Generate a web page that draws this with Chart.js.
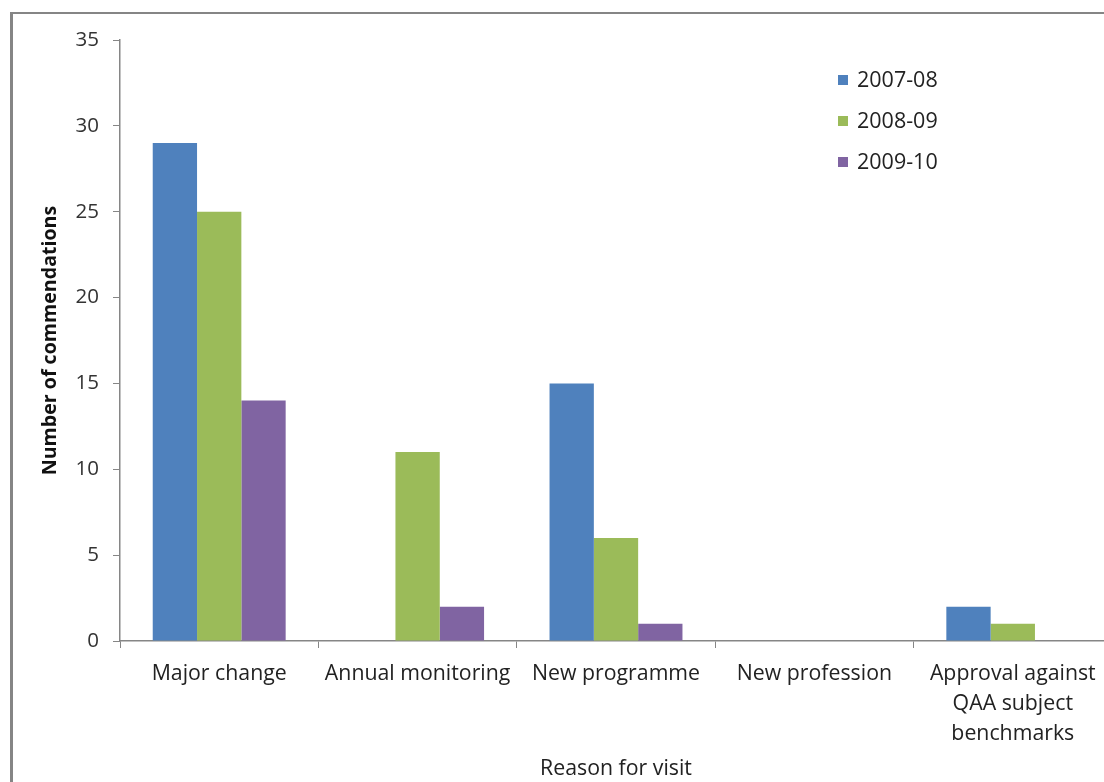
<!DOCTYPE html>
<html>
<head>
<meta charset="utf-8">
<script src="https://cdn.jsdelivr.net/npm/chart.js@4"></script>
<style>
  html, body { margin: 0; padding: 0; background: #fff; overflow: hidden; }
  #frame {
    position: absolute; left: 10px; top: 12px; width: 1200px; height: 900px;
    border-top: 2px solid #858585; border-left: 3px solid #858585;
  }
  #wrap { position: absolute; left: 0; top: 0; width: 1114px; height: 782px; }
</style>
</head>
<body>
<div id="frame"></div>
<div id="wrap"><canvas id="chart"></canvas></div>
<script>
const categories = ["Major change", "Annual monitoring", "New programme", "New profession",
  ["Approval against", "QAA subject", "benchmarks"]];
const years = ["2007-08", "2008-09", "2009-10"];
const values0708 = [29, 0, 15, 0, 2];
const values0809 = [25, 11, 6, 0, 1];
const values0910 = [14, 2, 1, 0, 0];
const colours = ["#4f81bd", "#9bbb59", "#8064a2"];
const yTicks = [0, 5, 10, 15, 20, 25, 30, 35];

const FONT = "'Open Sans', Lato, sans-serif";
const axisGrey = "#868686";

// legend drawn inside the plot, top right
const cornerLegend = {
  id: "cornerLegend",
  afterDraw(chart) {
    const ctx = chart.ctx;
    ctx.save();
    ctx.font = "21.5px " + FONT;
    ctx.textBaseline = "middle";
    chart.data.datasets.forEach((ds, i) => {
      const y = 80 + i * 41;
      ctx.fillStyle = ds.backgroundColor;
      ctx.fillRect(838, y - 5, 10, 10);
      ctx.fillStyle = "#222";
      ctx.fillText(ds.label, 857, y + 1);
    });
    ctx.restore();
  }
};

new Chart(document.getElementById("chart"), {
  type: "bar",
  data: {
    labels: categories,
    datasets: [values0708, values0809, values0910].map((v, i) => ({
      label: years[i],
      data: v,
      backgroundColor: colours[i],
      borderWidth: 0,
      categoryPercentage: 0.67,
      barPercentage: 1
    }))
  },
  options: {
    responsive: true,
    maintainAspectRatio: false,
    animation: false,
    layout: { padding: { left: 0, right: 2, top: 40, bottom: 0 } },
    plugins: { legend: { display: false }, tooltip: { enabled: false } },
    scales: {
      x: {
        grid: { display: true, drawOnChartArea: false, color: axisGrey, tickLength: 7, offset: true },
        border: { color: axisGrey, width: 1.5 },
        ticks: { color: "#222", font: { family: FONT, size: 21.3, lineHeight: 1.41 }, padding: 11, maxRotation: 0, autoSkip: false },
        title: { display: true, text: "Reason for visit", color: "#222",
          font: { family: FONT, size: 21.3 }, padding: { top: 0, bottom: 0 } },
        afterFit(scale) { scale.height = 141; }
      },
      y: {
        min: 0, max: 35,
        afterBuildTicks(scale) { scale.ticks = yTicks.map(v => ({ value: v })); },
        grid: { display: true, drawOnChartArea: false, color: axisGrey, tickLength: 7 },
        border: { color: axisGrey, width: 1.5 },
        ticks: { color: "#333", font: { family: FONT, size: 20.5 }, padding: 14 },
        title: { display: true, text: "Number of commendations", color: "#111",
          font: { family: FONT, size: 19.6, weight: "bold" }, padding: { top: 39, bottom: 0 } },
        afterFit(scale) { scale.width = 120; }
      }
    }
  },
  plugins: [cornerLegend]
});
</script>
</body>
</html>
